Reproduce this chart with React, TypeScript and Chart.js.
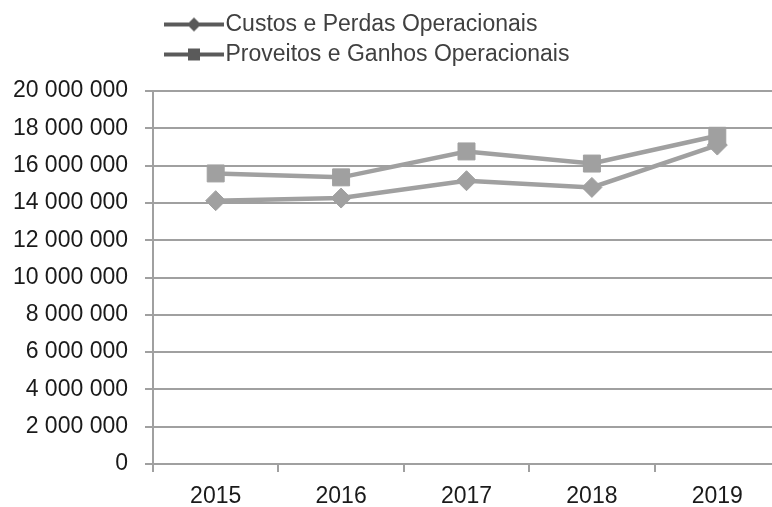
import { useEffect, useRef } from "react";
import { Chart, registerables } from "chart.js";

Chart.register(...registerables);

const years = ["2015", "2016", "2017", "2018", "2019"];
const custos = [14120000, 14260000, 15190000, 14830000, 17100000];
const proveitos = [15580000, 15370000, 16760000, 16110000, 17600000];
const seriesNames = ["Custos e Perdas Operacionais", "Proveitos e Ganhos Operacionais"];
const yMin = 0;
const yMax = 20000000;
const yStep = 2000000;

const FONT = "'Liberation Sans', Arial, sans-serif";
const LINE = "#a0a0a0";
const LEGEND_MARK = "#5a5a5a";

function fmt(v: number): string {
  return String(Math.round(v)).replace(/\B(?=(\d{3})+(?!\d))/g, " ");
}

function legendIcon(kind: "diamond" | "square"): HTMLCanvasElement {
  const c = document.createElement("canvas");
  c.width = 80;
  c.height = 22;
  const g = c.getContext("2d")!;
  g.strokeStyle = LEGEND_MARK;
  g.lineWidth = 4;
  g.beginPath();
  g.moveTo(20, 11);
  g.lineTo(80, 11);
  g.stroke();
  g.fillStyle = LEGEND_MARK;
  if (kind === "diamond") {
    g.beginPath();
    g.moveTo(50, 4);
    g.lineTo(57, 11);
    g.lineTo(50, 18);
    g.lineTo(43, 11);
    g.closePath();
    g.fill();
  } else {
    g.fillRect(44, 5, 12, 12);
  }
  return c;
}

export default function App() {
  const ref = useRef<HTMLCanvasElement | null>(null);

  useEffect(() => {
    if (!ref.current) return;
    const icons = [legendIcon("diamond"), legendIcon("square")];

    const legendShift = {
      id: "legendShift",
      beforeDraw(chart: any) {
        const lg = chart.legend;
        if (lg) {
          lg.left = 147;
          lg.top = 6;
        }
      },
    };

    const chart = new Chart(ref.current, {
      type: "line",
      data: {
        labels: years,
        datasets: [
          {
            label: seriesNames[0],
            data: custos,
            order: 1,
            borderColor: LINE,
            backgroundColor: LINE,
            borderWidth: 4.5,
            pointStyle: "rectRot",
            pointRadius: 10,
            pointBackgroundColor: LINE,
            pointBorderColor: LINE,
            pointBorderWidth: 1,
            tension: 0,
          },
          {
            label: seriesNames[1],
            data: proveitos,
            order: 0,
            borderColor: LINE,
            backgroundColor: LINE,
            borderWidth: 4.5,
            pointStyle: "rect",
            pointRadius: 12,
            pointBackgroundColor: LINE,
            pointBorderColor: LINE,
            pointBorderWidth: 1,
            tension: 0,
          },
        ],
      },
      options: {
        animation: false,
        responsive: false,
        devicePixelRatio: 1,
        layout: { autoPadding: false, padding: { top: 21, left: 0, right: 0, bottom: 0 } },
        plugins: {
          tooltip: { enabled: false },
          legend: {
            display: true,
            position: "top",
            align: "start",
            labels: {
              usePointStyle: true,
              pointStyleWidth: 60,
              padding: 7,
              color: "#404040",
              font: { family: FONT, size: 23 },
              generateLabels: () =>
                seriesNames.map((name, i) => ({
                  text: name,
                  pointStyle: icons[i],
                  fillStyle: LEGEND_MARK,
                  strokeStyle: LEGEND_MARK,
                  lineWidth: 0,
                  hidden: false,
                  datasetIndex: i,
                  fontColor: "#404040",
                })),
            },
          },
        },
        scales: {
          x: {
            type: "category",
            offset: true,
            grid: {
              offset: true,
              drawOnChartArea: false,
              drawTicks: true,
              tickLength: 8,
              color: LINE,
              lineWidth: 2,
            },
            border: { color: LINE, width: 2 },
            ticks: {
              color: "#1a1a1a",
              font: { family: FONT, size: 23 },
              padding: 11,
              maxRotation: 0,
            },
            afterFit: (s: any) => {
              s.height = 43;
            },
          },
          y: {
            min: yMin,
            max: yMax,
            ticks: {
              stepSize: yStep,
              color: "#1a1a1a",
              font: { family: FONT, size: 23 },
              padding: 17,
              callback: (v: any) => fmt(Number(v)),
            },
            grid: {
              color: LINE,
              lineWidth: 2,
              tickLength: 8,
              drawTicks: true,
            },
            border: { color: LINE, width: 2 },
            afterFit: (s: any) => {
              s.width = 153;
            },
          },
        },
      },
      plugins: [legendShift],
    } as any);

    return () => chart.destroy();
  }, []);

  return (
    <div style={{ position: "absolute", left: 0, top: 0, width: 772, height: 507, overflow: "hidden", background: "#fff" }}>
      <canvas ref={ref} width={780} height={507} style={{ display: "block", width: 780, height: 507 }} />
    </div>
  );
}
